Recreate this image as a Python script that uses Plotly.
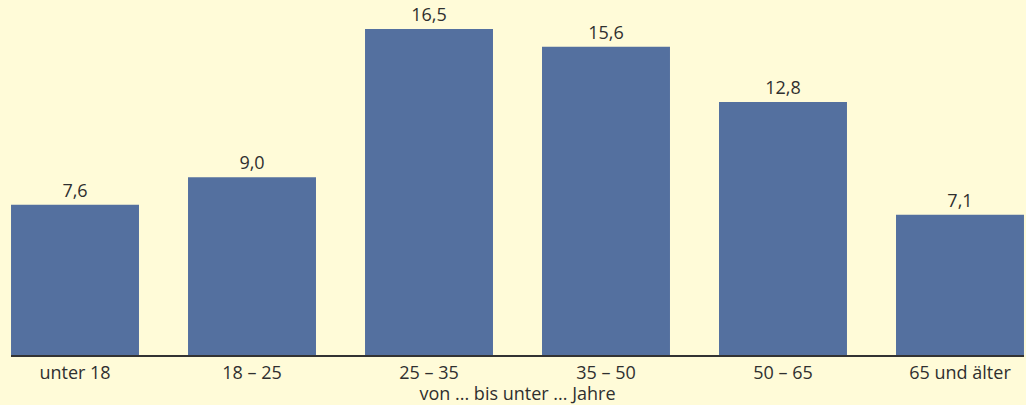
import plotly.graph_objects as go

categories = ["unter 18", "18 – 25", "25 – 35", "35 – 50", "50 – 65", "65 und älter"]
values = [7.6, 9.0, 16.5, 15.6, 12.8, 7.1]
value_labels = ["7,6", "9,0", "16,5", "15,6", "12,8", "7,1"]
axis_title = "von ... bis unter ... Jahre"

BG = "#FFFBD8"
BAR = "#54709F"
TXT = "#2F2F2F"
FONT = "Open Sans, Noto Sans, sans-serif"
FS = 18

xs = list(range(len(categories)))

fig = go.Figure(go.Bar(
    x=xs, y=values, width=0.723,
    marker=dict(color=BAR, line=dict(width=0)),
    text=value_labels, textposition="outside", cliponaxis=False,
    textfont=dict(size=FS, color=TXT, family=FONT),
    hoverinfo="skip",
))

fig.update_layout(
    width=1026, height=405,
    margin=dict(l=11, r=2, t=10, b=50),
    paper_bgcolor=BG, plot_bgcolor=BG,
    showlegend=False,
    font=dict(family=FONT, color=TXT, size=FS),
    xaxis=dict(
        range=[-0.3616, 5.3616], tickvals=xs, ticktext=categories,
        showline=True, linecolor="#333333", linewidth=2,
        showgrid=False, zeroline=False, ticks="",
        tickfont=dict(size=FS, color=TXT),
        title=dict(text=axis_title, standoff=0, font=dict(size=FS, color=TXT)),
    ),
    yaxis=dict(range=[0, 17.46], visible=False, showgrid=False, zeroline=False),
)

fig.write_html(
    "out.html",
    config={"displayModeBar": False, "staticPlot": True},
    post_script="document.body.style.margin='0';document.body.style.overflow='hidden';",
)
